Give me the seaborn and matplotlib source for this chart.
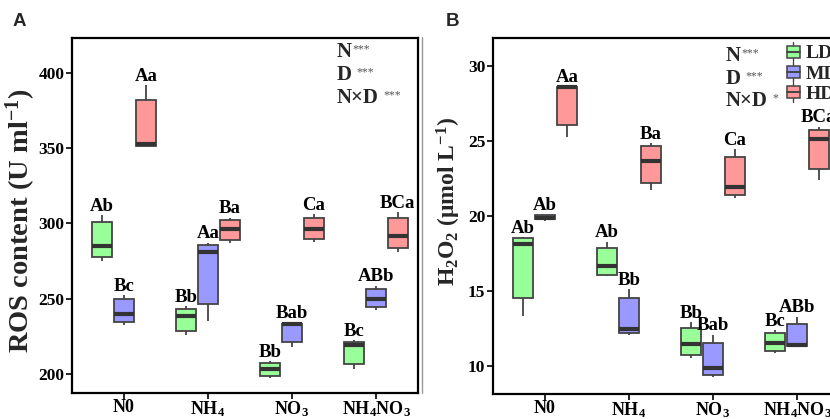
import numpy as np
import pandas as pd
import matplotlib
matplotlib.use("Agg")
import matplotlib.pyplot as plt
import seaborn as sns
from matplotlib.legend_handler import HandlerBase
from matplotlib.patches import Rectangle, Patch
from matplotlib.lines import Line2D

# ---------------- data ----------------
treatments = ["N0", "NH4", "NO3", "NH4NO3"]
tick_labels = ["N0", "NH$_4$", "NO$_3$", "NH$_4$NO$_3$"]
densities = ["LD", "MD", "HD"]

# each inner list: min, Q1, median, Q3, max
ros_LD = [[275.3, 277.8, 285.3, 300.7, 305.3], [226.0, 228.5, 238.2, 243.1, 244.9],
          [197.5, 198.9, 203.3, 207.5, 208.4], [203.1, 206.7, 219.5, 221.5, 222.4]]
ros_MD = [[232.5, 234.5, 239.5, 249.6, 252.2], [235.3, 246.5, 281.1, 286.0, 287.1],
          [218.0, 221.1, 233.1, 233.5, 234.0], [242.7, 244.5, 250.0, 256.5, 258.7]]
ros_HD = [[351.4, 351.5, 352.6, 382.4, 392.0], [286.7, 288.7, 296.0, 302.2, 303.8],
          [287.8, 289.5, 296.0, 303.5, 306.0], [281.1, 283.8, 292.0, 303.8, 307.5]]

h2o2_LD = [[13.31, 14.49, 18.13, 18.49, 18.56], [15.96, 16.07, 16.65, 17.87, 18.27],
           [10.49, 10.73, 11.43, 12.53, 12.89], [10.87, 11.00, 11.49, 12.18, 12.38]]
h2o2_MD = [[19.65, 19.76, 19.87, 20.05, 20.08], [12.07, 12.16, 12.45, 14.49, 15.11],
           [9.27, 9.38, 9.87, 11.53, 12.07], [11.33, 11.33, 11.38, 12.78, 13.27]]
h2o2_HD = [[25.23, 26.07, 28.56, 28.60, 28.62], [21.71, 22.20, 23.63, 24.65, 24.83],
           [21.20, 21.38, 21.93, 23.89, 24.43], [22.38, 23.09, 25.11, 25.71, 25.93]]

ros_letters_LD = ["Ab", "Bb", "Bb", "Bc"]
ros_letters_MD = ["Bc", "Aa", "Bab", "ABb"]
ros_letters_HD = ["Aa", "Ba", "Ca", "BCa"]
h2o2_letters_LD = ["Ab", "Ab", "Bb", "Bc"]
h2o2_letters_MD = ["Ab", "Bb", "Bab", "ABb"]
h2o2_letters_HD = ["Aa", "Ba", "Ca", "BCa"]

ros_stats = [("N", "***"), ("D", "***"), ("N×D", "***")]
h2o2_stats = [("N", "***"), ("D", "***"), ("N×D", "*")]

colors = {"LD": "#99ff99", "MD": "#9999ff", "HD": "#ff9999"}


def build_df(ld, md, hd):
    rows = []
    for dens, arr in zip(densities, [ld, md, hd]):
        for trt, vals in zip(treatments, arr):
            for v in vals:
                rows.append({"treatment": trt, "density": dens, "value": v})
    return pd.DataFrame(rows)


ros_df = build_df(ros_LD, ros_MD, ros_HD)
h2o2_df = build_df(h2o2_LD, h2o2_MD, h2o2_HD)

# ---------------- style ----------------
sns.set_style("white")
plt.rcParams["font.family"] = ["Liberation Serif", "DejaVu Serif"]
plt.rcParams["font.weight"] = "bold"
plt.rcParams["mathtext.fontset"] = "custom"
plt.rcParams["mathtext.rm"] = "Liberation Serif:bold"
plt.rcParams["mathtext.bf"] = "Liberation Serif:bold"
plt.rcParams["mathtext.it"] = "Liberation Serif:bold:italic"
plt.rcParams["axes.linewidth"] = 1.6

W, H = 830, 419
fig = plt.figure(figsize=(W / 100, H / 100), dpi=100)
axA = fig.add_axes([72 / W, 1 - 393 / H, 346 / W, 355 / H])
axB = fig.add_axes([493 / W, 1 - 394 / H, 346 / W, 356 / H])

BOXW = 0.78


def draw(ax, df, letters, ylim, yticks, ylabel, lsize, lcoords):
    sns.boxplot(data=df, x="treatment", y="value", hue="density",
                order=treatments, hue_order=densities, palette=colors,
                saturation=1, width=BOXW, gap=0.08, whis=(0, 100),
                showcaps=False, linecolor="#444444", linewidth=1.3,
                fliersize=0, medianprops={"color": "#333333", "linewidth": 3},
                legend=False, ax=ax)
    ax.set_xlim(-0.62, 3.5)
    ax.set_ylim(*ylim)
    ax.set_yticks(yticks)
    ax.set_yticklabels([str(t) for t in yticks], fontsize=12.5, fontweight="bold")
    ax.set_xticks(range(len(treatments)))
    ax.set_xticklabels(tick_labels, fontsize=13, fontweight="bold")
    ax.set_xlabel("")
    ax.set_ylabel(ylabel, fontsize=lsize, fontweight="bold")
    ax.yaxis.set_label_coords(*lcoords)
    ax.tick_params(axis="y", direction="out", length=4, width=1.2,
                   left=True, pad=1.5, colors="black")
    ax.tick_params(axis="x", direction="out", length=4, width=1.2,
                   bottom=True, pad=0.5, colors="black")
    for s in ax.spines.values():
        s.set_visible(True)
        s.set_color("black")
    step = BOXW / 3
    for j, (dens, labs, arr) in enumerate(letters):
        for i, lab in enumerate(labs):
            top = max(arr[i])
            ax.annotate(lab, (i + (j - 1) * step, top), xytext=(0, 0.3),
                        textcoords="offset points", ha="center", va="bottom",
                        fontsize=13.5, fontweight="bold", color="black")


draw(axA, ros_df,
     [("LD", ros_letters_LD, ros_LD), ("MD", ros_letters_MD, ros_MD),
      ("HD", ros_letters_HD, ros_HD)],
     (187.3, 423.3), [200, 250, 300, 350, 400], "ROS content (U ml$^{-1}$)",
     20.5, (-0.098, 0.485))
draw(axB, h2o2_df,
     [("LD", h2o2_letters_LD, h2o2_LD), ("MD", h2o2_letters_MD, h2o2_MD),
      ("HD", h2o2_letters_HD, h2o2_HD)],
     (8.11, 31.85), [10, 15, 20, 25, 30], "H$_2$O$_2$ (μmol L$^{-1}$)",
     17, (-0.088, 0.54))


# stats text
def stats_text(items, xl, ys, gaps):
    for (main, stars), y, g in zip(items, ys, gaps):
        t = fig.text(xl / W, 1 - y / H, main, fontsize=15, fontweight="bold",
                     va="center", ha="left")
        a = plt.annotate(stars, xy=(1, 1), xycoords=t, xytext=(g, -1),
                         textcoords="offset points", fontsize=8.5,
                         fontweight="normal", color="#555555",
                         va="top", ha="left", annotation_clip=False)
        a.remove()
        fig.add_artist(a)


stats_text(ros_stats, 337, [52, 75, 98], [0.5, 3.5, 3.5])
stats_text(h2o2_stats, 726, [56, 79, 101], [0.5, 3.5, 3.5])

# panel letters
fig.text(13 / W, 1 - 22 / H, "A", fontsize=13.5, fontweight="bold",
         family="Liberation Sans", va="center", ha="left")
fig.text(446 / W, 1 - 22 / H, "B", fontsize=13.5, fontweight="bold",
         family="Liberation Sans", va="center", ha="left")

# separator line
fig.add_artist(Line2D([422 / W, 422 / W], [1 - 393 / H, 1 - 37 / H],
                      transform=fig.transFigure, color="#999999", lw=1))


# legend with mini box glyphs
class BoxHandler(HandlerBase):
    def create_artists(self, legend, orig_handle, xdescent, ydescent,
                       width, height, fontsize, trans):
        fc = orig_handle.get_facecolor()
        x0, y0 = -xdescent, -ydescent
        cx = x0 + width / 2
        r = Rectangle((x0, y0 + height * 0.15), width, height * 0.7,
                      facecolor=fc, edgecolor="#444444", lw=1.1, transform=trans)
        m = Line2D([x0, x0 + width], [y0 + height * 0.5] * 2, color="#444444",
                   lw=1.4, transform=trans)
        w1 = Line2D([cx, cx], [y0 + height * 0.85, y0 + height * 1.05],
                    color="#444444", lw=1, transform=trans)
        w2 = Line2D([cx, cx], [y0 - height * 0.05, y0 + height * 0.15],
                    color="#444444", lw=1, transform=trans)
        return [w1, w2, r, m]


handles = [Patch(facecolor=colors[d]) for d in densities]
leg = axB.legend(handles, densities, handler_map={Patch: BoxHandler()},
                 loc="upper left", bbox_to_anchor=(787 / W, 1 - 43 / H),
                 bbox_transform=fig.transFigure, frameon=False,
                 handlelength=0.65, handleheight=1.0, handletextpad=0.3,
                 labelspacing=0.05, borderaxespad=0, borderpad=0,
                 prop={"family": "Liberation Serif", "weight": "bold", "size": 14})

fig.savefig("out.png", dpi=100)
